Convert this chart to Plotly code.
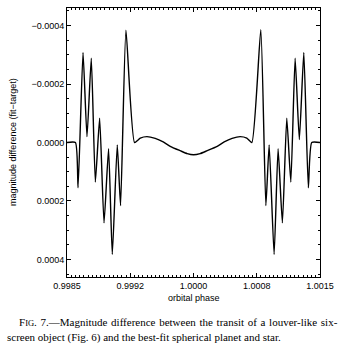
import plotly.graph_objects as go

# orbital phase samples and magnitude difference (fit - target)
phase = [
    0.99850, 0.99860, 0.998631, 0.998690, 0.998737, 0.998788, 0.998836, 0.998887,
    0.998939, 0.998993, 0.999037, 0.999096, 0.999135, 0.999199, 0.999301,
    0.999369, 0.999448, 0.999546, 0.999641, 0.999724, 0.999842, 0.999925, 1.000000,
    1.000079, 1.000162, 1.000281, 1.000364, 1.000458, 1.000553, 1.000632, 1.000692,
    1.000798, 1.000858, 1.000897, 1.000956, 1.001003, 1.001054, 1.001106, 1.001154,
    1.001205, 1.001255, 1.001308, 1.001362, 1.001402, 1.001500,
]
mag_diff = [
    0.0, 0.0, 0.000155, -0.000308, -0.000020, -0.000288, 0.000135, -0.000083,
    0.000275, 0.000021, 0.000383, 0.000008, 0.000216, -0.000384, 0.0,
    -0.000015, -0.000020, -0.000014, -0.000002, 0.000013, 0.000028, 0.000038, 0.000042,
    0.000038, 0.000028, 0.000013, -0.000002, -0.000014, -0.000020, -0.000015, 0.0,
    -0.000386, 0.000216, 0.000008, 0.000383, 0.000021, 0.000275, -0.000083, 0.000135,
    -0.000288, -0.000010, -0.000308, 0.000155, 0.0, 0.0,
]

x_tickvals = [0.9985, 0.99925, 1.0000, 1.00075, 1.0015]
x_ticktext = ["0.9985", "0.9992", "1.0000", "1.0008", "1.0015"]
y_tickvals = [-0.0004, -0.0002, 0.0, 0.0002, 0.0004]
y_ticktext = ["\u22120.0004", "\u22120.0002", "0.0000", "0.0002", "0.0004"]

fig = go.Figure()
fig.add_trace(go.Scatter(x=phase, y=mag_diff, mode="lines",
                         line=dict(color="black", width=1.4, shape="spline", smoothing=0.5),
                         hoverinfo="skip"))

axis_font = dict(family="Liberation Sans, Arial, sans-serif", size=9, color="black")

fig.update_xaxes(range=[0.9985, 1.0015], tickmode="array", tickvals=x_tickvals,
                 ticktext=x_ticktext, ticks="inside", ticklen=4, tickwidth=1,
                 tickcolor="black", showline=True, linecolor="black", linewidth=1,
                 mirror="ticks", showgrid=False, zeroline=False, tickfont=axis_font,
                 minor=dict(ticks="inside", ticklen=2, tick0=0.9985, dtick=0.00005,
                            tickcolor="black", showgrid=False))
fig.update_yaxes(range=[0.00046, -0.00046], tickmode="array", tickvals=y_tickvals,
                 ticktext=y_ticktext, ticks="inside", ticklen=4, tickwidth=1,
                 tickcolor="black", showline=True, linecolor="black", linewidth=1,
                 mirror="ticks", showgrid=False, zeroline=False, tickfont=axis_font,
                 minor=dict(ticks="inside", ticklen=2, tick0=0, dtick=0.00005,
                            tickcolor="black", showgrid=False))

W0, W = 67, 253
H0, H = 8, 269

def px(x):
    return (x - W0) / W

def py(y):
    return (H0 + H - y) / H

serif = "Liberation Serif, Times New Roman, serif"
hs = "\u200a"
line1_words = ["F<span style='font-size:8.5px'>IG</span>.", "7.\u2014Magnitude", "difference",
               "between", "the", "transit", "of", "a", "louver-like", "six-"]
line1 = (" " + hs).join(line1_words)
annotations = [
    dict(text="orbital phase", x=px(194), y=py(298), xref="paper", yref="paper",
         showarrow=False, font=axis_font, xanchor="center", yanchor="middle"),
    dict(text="magnitude difference (fit\u2212target)", x=px(13), y=py(142),
         xref="paper", yref="paper", showarrow=False, font=axis_font,
         textangle=-90, xanchor="center", yanchor="middle"),
    dict(text=line1,
         x=px(17), y=py(322), xref="paper", yref="paper", showarrow=False,
         font=dict(family=serif, size=11, color="black"), xanchor="left", yanchor="middle"),
    dict(text="screen object (Fig. 6) and the best-fit spherical planet and star.",
         x=px(5), y=py(337), xref="paper", yref="paper", showarrow=False,
         font=dict(family=serif, size=11, color="black"), xanchor="left", yanchor="middle"),
]

fig.update_layout(width=353, height=354, margin=dict(l=W0, r=353 - W0 - W, t=H0, b=354 - H0 - H),
                  paper_bgcolor="white", plot_bgcolor="white", showlegend=False,
                  annotations=annotations)

fig.write_html("out.html")
